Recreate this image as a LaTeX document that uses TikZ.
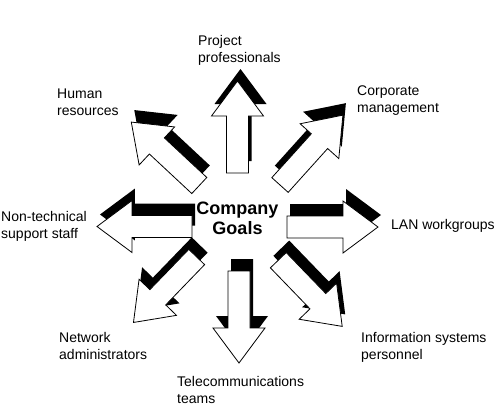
\documentclass[tikz,border=0pt]{standalone}
\usepackage{fontspec}
\setmainfont{Liberation Sans}
\usepackage{tikz}
\tikzstyle{stakeholder}=[font=\fontsize{14}{16.7}\selectfont,align=left,anchor=north west,inner sep=0pt]
\tikzstyle{goalarrow}=[fill=white,draw=black,line width=0.8pt,line join=miter]
\tikzstyle{goalshadow}=[fill=black]

\begin{document}
\begin{tikzpicture}[x=1pt,y=1pt]
  \useasboundingbox (-239,-181) rectangle (261,224);
  % block arrows pointing away from the goals, each with its black offset copy
  \foreach \name/\x/\y/\angle/\len in {up/-1.5/51/90/92, ne/41/39/48/94, right/48/-3/0/91,
                                       se/39.3/-36.2/-46/92, down/0/-47/-90/92, sw/-42.3/-33/226/91,
                                       left/-47/-2.5/180/95, nw/-39.7/38.5/137/93}
  {
    \fill[goalshadow,shift={(\x+3,\y+12)},rotate=\angle] (0,-11) -- (\len-35,-11) -- (\len-35,-26)
      -- (\len,0) -- (\len-35,26) -- (\len-35,11) -- (0,11) -- cycle;
    \draw[goalarrow,shift={(\x,\y)},rotate=\angle] (0,-11) -- (\len-35,-11) -- (\len-35,-26)
      -- (\len,0) -- (\len-35,26) -- (\len-35,11) -- (0,11) -- cycle;
  }
  \node[font=\fontsize{18}{20}\selectfont\bfseries,align=center] (goals) at (-1.5,5.5) {Company\\Goals};
  \foreach \name/\x/\y/\lbl in {proj/-41/189/{Project\\professionals},
                                corp/118/138/{Corporate\\management},
                                hr/-182/135/{Human\\resources},
                                nontech/-238/13/{Non-technical\\support staff},
                                lan/152/5/{LAN workgroups},
                                net/-180/-108/{Network\\administrators},
                                info/122/-108/{Information systems\\personnel},
                                tele/-62/-152/{Telecommunications\\teams}}
    \node[stakeholder] (L-\name) at (\x,\y) {\lbl};
\end{tikzpicture}
\end{document}
